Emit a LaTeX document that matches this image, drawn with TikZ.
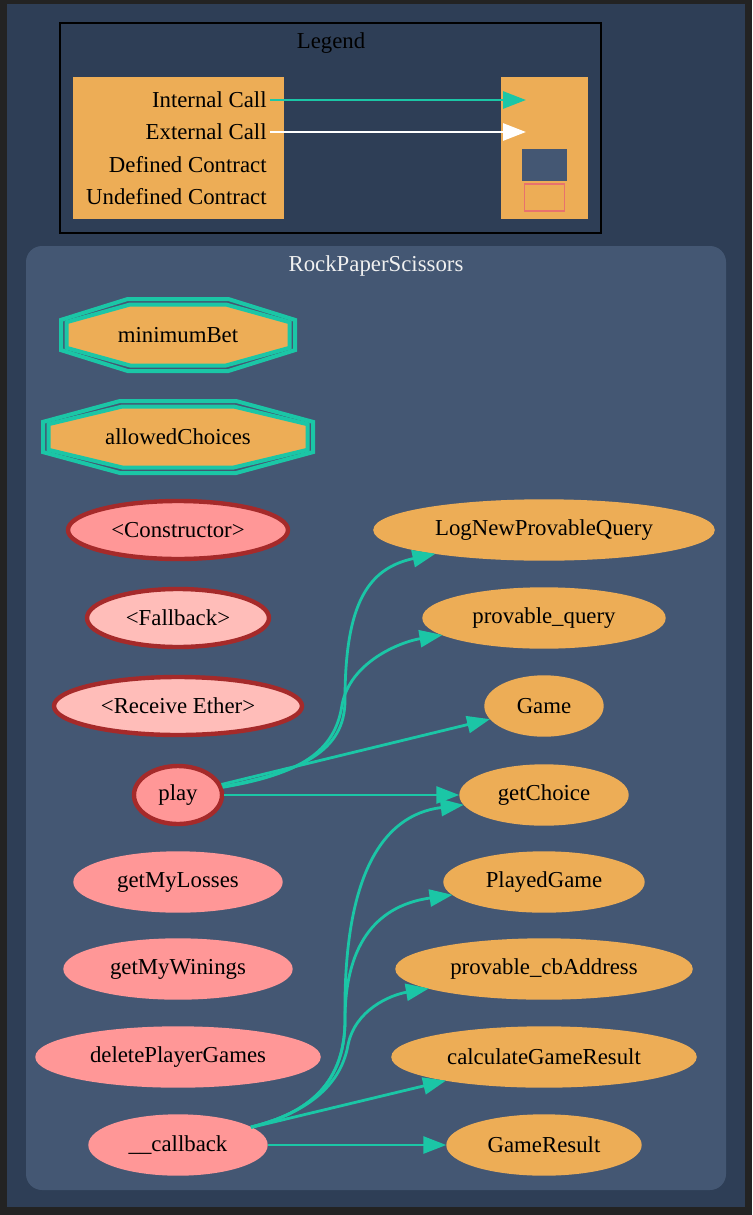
\documentclass[tikz,border=0pt]{standalone}
\usepackage{fontspec}
\setmainfont{Liberation Serif}
\usetikzlibrary{shapes.geometric, arrows.meta}
\definecolor{Frame}{RGB}{ 35, 35, 35}
\definecolor{Navy}{RGB}{ 46, 62, 86}
\definecolor{Slate}{RGB}{ 68, 87,115}
\definecolor{Amber}{RGB}{237,173, 86}
\definecolor{Pink}{RGB}{255,151,151}
\definecolor{Blush}{RGB}{255,189,185}
\definecolor{Brown}{RGB}{165, 42, 42}
\definecolor{Teal}{RGB}{ 27,198,166}
\definecolor{Coral}{RGB}{232,114,109}
\definecolor{Snow}{RGB}{240,240,240}

% octagon outline: [style]{half width}{half height}
\newcommand{\octline}[3][]{\draw[#1] (-#2,{-0.42*#3}) -- ({-0.43*#2},-#3) -- ({0.43*#2},-#3) -- (#2,{-0.42*#3})
  -- (#2,{0.42*#3}) -- ({0.43*#2},#3) -- ({-0.43*#2},#3) -- (-#2,{0.42*#3}) -- cycle;}

\begin{document}
\begin{tikzpicture}[x=0.5pt, y=-0.5pt, font=\fontsize{11.4}{13}\selectfont,
    fun/.style={ellipse, inner sep=0pt, fill=Pink, draw=Pink, line width=1.7pt, minimum height=29pt},
    payfun/.style={fun, draw=Brown, line width=2.2pt},
    special/.style={payfun, fill=Blush},
    callee/.style={fun, fill=Amber, draw=Amber},
    mod/.style={draw=Teal, line width=2pt},
    call/.style={draw=Teal, line width=1.4pt, -{Triangle[length=11.5pt, width=8.5pt]}},
    xcall/.style={call, draw=white},
    keytext/.style={anchor=east, inner sep=1.5pt}]

    %% --- Background ---
    \fill[Frame] (0,0) rectangle (752,1215);
    \fill[Navy] (7,4) rectangle (745,1207);

    %% --- Legend ---
    \draw[black, line width=0.7pt] (60,23) rectangle (601,233);
    \node (legtitle) at (331,43) {Legend};
    \node[fill=Amber, minimum width=105.5pt, minimum height=71pt] (key) at (178.5,148) {};
    \node[fill=Amber, minimum width=43.5pt, minimum height=71pt] (key2) at (544.5,148) {};
    \node[keytext] (int) at (270,100) {Internal Call};
    \node[keytext] (ext) at (270,132) {External Call};
    \node[keytext] (def) at (270,165) {Defined Contract};
    \node[keytext] (undef) at (270,197) {Undefined Contract};
    \node[fill=Slate, minimum width=22.5pt, minimum height=16pt] (kdef) at (544.5,165) {};
    \node[draw=Coral, line width=0.6pt, minimum width=20pt, minimum height=13.5pt] (kundef) at (544.5,197.5) {};
    \coordinate (k1) at (526,100);
    \coordinate (k2) at (526,132);
    \draw[call] (int.east) -- (k1);
    \draw[xcall] (ext.east) -- (k2);

    %% --- Contract cluster ---
    \fill[Slate, rounded corners=8pt] (26,246) rectangle (726,1190);
    \node[text=Snow] (rps) at (376,266) {RockPaperScissors};

    %% --- Modifiers ---
    \begin{scope}[shift={(178,335)}]
        \octline[mod]{117}{36}
        \octline[mod, fill=Amber]{111.5}{30.5}
    \end{scope}
    \node (minbet) at (178,335) {minimumBet};
    \begin{scope}[shift={(178,437)}]
        \octline[mod]{135}{36}
        \octline[mod, fill=Amber]{129.5}{30.5}
    \end{scope}
    \node (allowed) at (178,437) {allowedChoices};

    %% --- Functions ---
    \node[payfun, minimum width=110pt] (ctor) at (178,530) {<Constructor>};
    \node[special, minimum width=91pt] (fallback) at (178,618) {<Fallback>};
    \node[special, minimum width=124pt] (receive) at (178,706) {<Receive Ether>};
    \node[payfun, minimum width=44pt] (play) at (178,795) {play};
    \node[fun, minimum width=103pt] (losses) at (178,882) {getMyLosses};
    \node[fun, minimum width=113pt] (winings) at (178,969) {getMyWinings};
    \node[fun, minimum width=141pt] (delgames) at (178,1057) {deletePlayerGames};
    \node[fun, minimum width=88pt] (callback) at (178,1145) {\_\_callback};

    %% --- Callees ---
    \node[callee, minimum width=169pt] (lognpq) at (544,530) {LogNewProvableQuery};
    \node[callee, minimum width=120pt] (pquery) at (544,618) {provable\_query};
    \node[callee, minimum width=58pt] (game) at (544,706) {Game};
    \node[callee, minimum width=83pt] (choice) at (544,795) {getChoice};
    \node[callee, minimum width=99pt] (played) at (544,882) {PlayedGame};
    \node[callee, minimum width=147pt] (cbaddr) at (544,969) {provable\_cbAddress};
    \node[callee, minimum width=151pt] (calcres) at (544,1057) {calculateGameResult};
    \node[callee, minimum width=96pt] (gameres) at (544,1145) {GameResult};

    %% --- Calls ---
    \draw[call] (play) .. controls (300,772) and (345,752) .. (345,700)
        .. controls (345,600) and (370,568) .. (lognpq);
    \draw[call] (play) .. controls (300,774) and (335,752) .. (342,705)
        .. controls (350,662) and (400,642) .. (pquery);
    \draw[call] (play) -- (game);
    \draw[call] (play) -- (choice);
    \draw[call] (callback) .. controls (300,1115) and (345,1090) .. (345,1020)
        .. controls (343,880) and (380,815) .. (choice);
    \draw[call] (callback) .. controls (300,1115) and (345,1090) .. (345,1020)
        .. controls (345,940) and (380,905) .. (played);
    \draw[call] (callback) .. controls (300,1115) and (340,1090) .. (348,1045)
        .. controls (355,1010) and (390,995) .. (cbaddr);
    \draw[call] (callback) -- (calcres);
    \draw[call] (callback) -- (gameres);

\end{tikzpicture}
\end{document}
